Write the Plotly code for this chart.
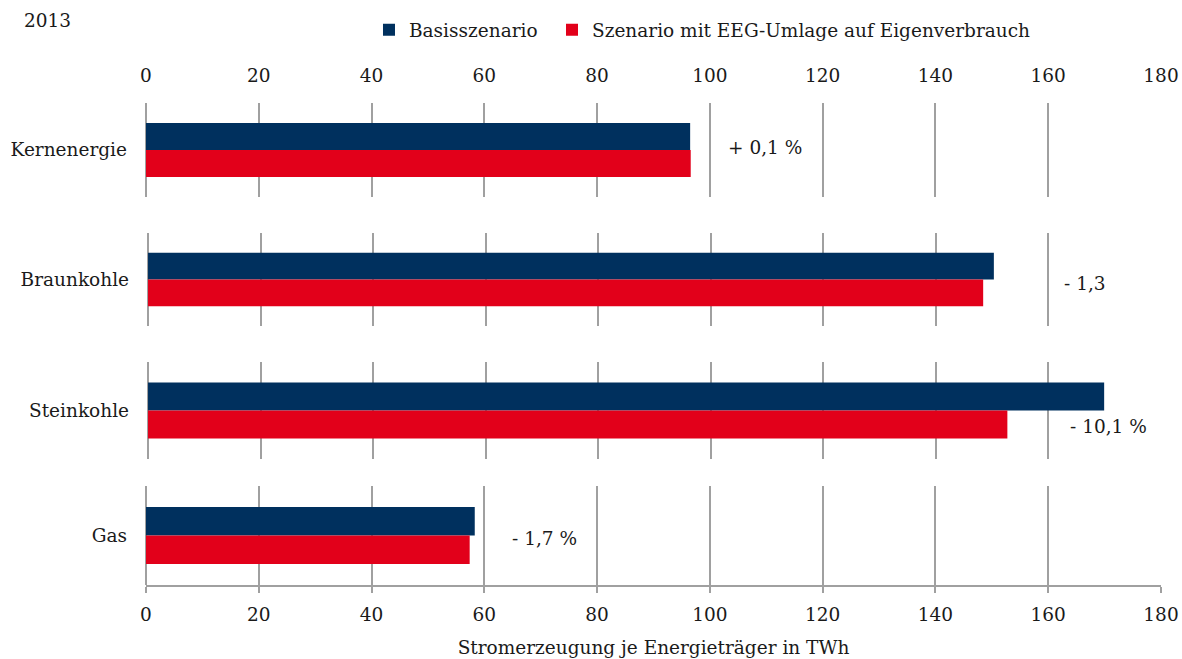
import plotly.graph_objects as go

categories = ["Kernenergie", "Braunkohle", "Steinkohle", "Gas"]
basis = [96.5, 150.3, 169.9, 58.3]
eeg = [96.6, 148.4, 152.7, 57.4]
changes = ["+ 0,1 %", "- 1,3", "- 10,1 %", "- 1,7 %"]
series_names = ["Basisszenario", "Szenario mit EEG-Umlage auf Eigenverbrauch"]
tick_vals = [0, 20, 40, 60, 80, 100, 120, 140, 160, 180]
year_label = "2013"
x_title = "Stromerzeugung je Energieträger in TWh"

BLUE = "#00305E"
RED = "#E2001A"
GRID = "#A0A0A0"
FONT = "DejaVu Serif"
FS = 18.5
TXT = "#1A1A1A"

# layout only (pixels -> fractions)
y_domains = [[0.805, 1.0], [0.5373, 0.7303], [0.2614, 0.4627], [0.0, 0.2054]]
x_domains = [[0, 1], [0.002, 1], [0.002, 1], [0, 1]]
ann_pos = [(102.9, -0.03), (162.4, 0.04), (163.5, 0.16), (64.6, 0.03)]

fig = go.Figure()
layout = {}
for i, cat in enumerate(categories):
    n = "" if i == 0 else str(i + 1)
    xa, ya = "x" + n, "y" + n
    fig.add_trace(go.Bar(y=[cat], x=[basis[i]], orientation="h", name=series_names[0],
                         marker=dict(color=BLUE, line=dict(width=0)), xaxis=xa, yaxis=ya,
                         showlegend=(i == 0), legendgroup="b", legend="legend"))
    fig.add_trace(go.Bar(y=[cat], x=[eeg[i]], orientation="h", name=series_names[1],
                         marker=dict(color=RED, line=dict(width=0)), xaxis=xa, yaxis=ya,
                         showlegend=(i == 0), legendgroup="r", legend="legend2"))
    xaxis = dict(domain=x_domains[i], anchor=ya, range=[0, 180], tickvals=tick_vals,
                 showgrid=True, gridcolor=GRID, gridwidth=1.5, zeroline=True,
                 zerolinecolor=GRID, zerolinewidth=1.5, showticklabels=False,
                 fixedrange=True, automargin=False,
                 tickfont=dict(family=FONT, size=FS, color=TXT))
    if i == 0:
        xaxis.update(side="top", showticklabels=True, ticks="", ticklabelstandoff=16)
    if i == 3:
        xaxis.update(showline=True, linecolor=GRID, linewidth=1.5, ticks="outside",
                     ticklen=6, tickcolor=GRID, tickwidth=1.5, showticklabels=True,
                     ticklabelstandoff=6,
                     title=dict(text=x_title, standoff=17,
                                font=dict(family=FONT, size=FS, color=TXT)))
    layout["xaxis" + n] = xaxis
    layout["yaxis" + n] = dict(domain=y_domains[i], anchor=xa, type="category",
                               range=[0.5, -0.5], showgrid=False, zeroline=False,
                               ticks="", ticklabelstandoff=18, fixedrange=True,
                               automargin=False,
                               tickfont=dict(family=FONT, size=FS, color=TXT))
    fig.add_annotation(x=ann_pos[i][0], y=ann_pos[i][1], xref=xa, yref=ya,
                       text=changes[i], showarrow=False, xanchor="left", yanchor="middle",
                       font=dict(family=FONT, size=FS, color=TXT))

fig.add_annotation(x=-0.1222, y=1.1703, xref="paper", yref="paper", text=year_label,
                   showarrow=False, xanchor="left", yanchor="middle",
                   font=dict(family=FONT, size=FS, color=TXT))

legend_style = dict(orientation="h", y=1.151, xanchor="left", yanchor="middle",
                    font=dict(family=FONT, size=FS, color=TXT),
                    bgcolor="rgba(0,0,0,0)")

fig.update_layout(**layout)
fig.update_layout(
    width=1182, height=659,
    margin=dict(l=146, r=21, t=103, b=74, autoexpand=False),
    paper_bgcolor="white", plot_bgcolor="white",
    barmode="group", bargap=0.424, bargroupgap=0,
    font=dict(family=FONT, size=FS, color=TXT),
    legend=dict(x=0.2197, **legend_style),
    legend2=dict(x=0.4, **legend_style),
)

fig.write_html("out.html", config={"displayModeBar": False},
               post_script="document.body.style.margin='0px';document.body.style.overflow='hidden';")
